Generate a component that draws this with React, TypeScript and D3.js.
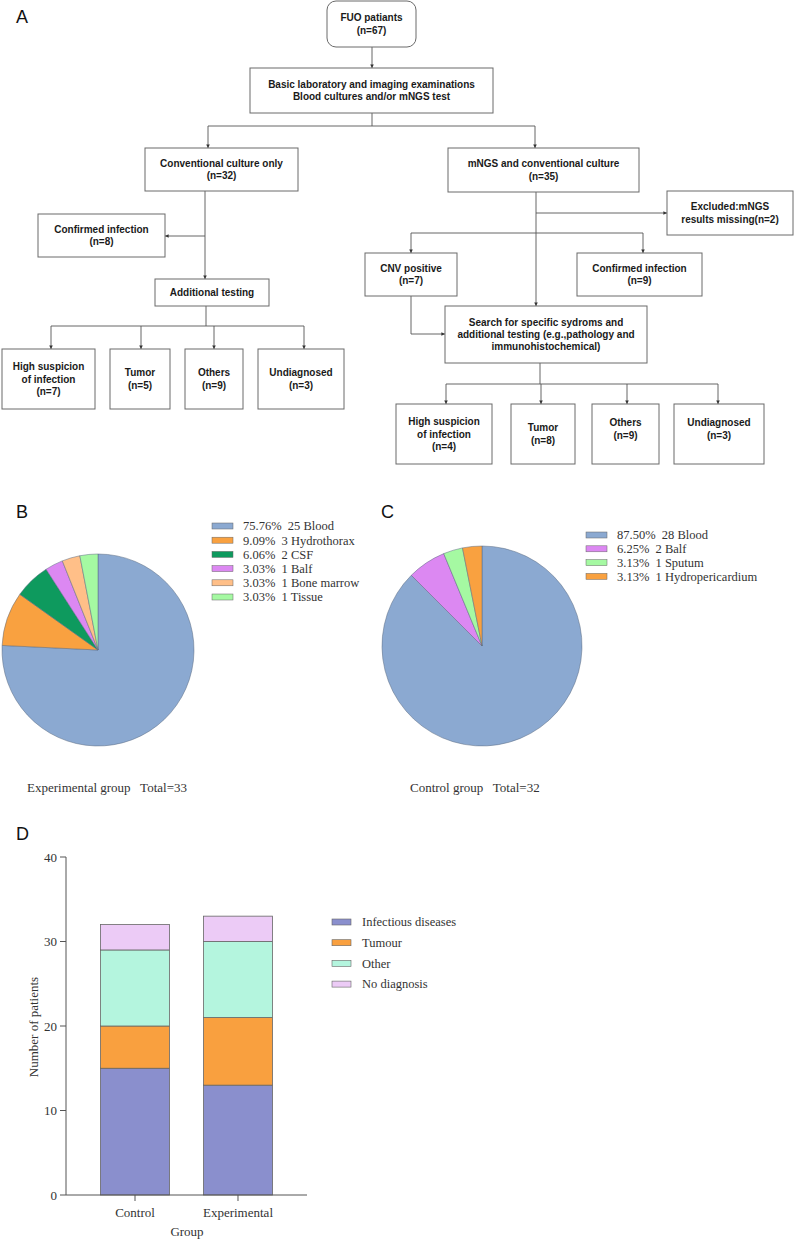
import React from "react";
import * as d3 from "d3";

// ---------- data ----------
const pieBLabels = ["Blood", "Hydrothorax", "CSF", "Balf", "Bone marrow", "Tissue"];
const pieBCounts = [25, 3, 2, 1, 1, 1];
const pieBPercents = ["75.76%", "9.09%", "6.06%", "3.03%", "3.03%", "3.03%"];

const pieCLabels = ["Blood", "Balf", "Sputum", "Hydropericardium"];
const pieCCounts = [28, 2, 1, 1];
const pieCPercents = ["87.50%", "6.25%", "3.13%", "3.13%"];

const groups = ["Control", "Experimental"];
const diagnoses = ["Infectious diseases", "Tumour", "Other", "No diagnosis"];
const controlValues = [15, 5, 9, 3];
const experimentalValues = [13, 8, 9, 3];
const yTicks = [0, 10, 20, 30, 40];

// ---------- styles ----------
const pieBColors = ["#8BA9D1", "#F9A140", "#0E9A5E", "#DC88F2", "#FFBF88", "#A5F9A2"];
const pieCColors = ["#8BA9D1", "#DC88F2", "#A5F9A2", "#F9A140"];
const barColors = ["#8A8FCD", "#F9A03F", "#B4F5DE", "#ECCBF6"];
const serif = "'Liberation Serif', 'Times New Roman', serif";
const sans = "'Liberation Sans', Arial, sans-serif";

// ---------- flowchart ----------
type Node = { lines: string[]; x: number; y: number; w: number; h: number; r?: number; dy?: number };
const flowNodes: Node[] = [
  { lines: ["FUO patiants", "(n=67)"], x: 327, y: 1, w: 89, h: 46, r: 9 },
  { lines: ["Basic laboratory and imaging examinations", "Blood cultures and/or mNGS test"], x: 250, y: 68, w: 243, h: 45 },
  { lines: ["Conventional culture only", "(n=32)"], x: 145, y: 148, w: 153, h: 43 },
  { lines: ["mNGS and conventional culture", "(n=35)"], x: 448, y: 148, w: 191, h: 44 },
  { lines: ["Confirmed infection", "(n=8)"], x: 38, y: 214, w: 127, h: 43 },
  { lines: ["Additional testing"], x: 155, y: 279, w: 114, h: 27 },
  { lines: ["High suspicion", "of infection", "(n=7)"], x: 2, y: 349, w: 93, h: 60 },
  { lines: ["Tumor", "(n=5)"], x: 110, y: 349, w: 60, h: 60 },
  { lines: ["Others", "(n=9)"], x: 185, y: 349, w: 58, h: 60 },
  { lines: ["Undiagnosed", "(n=3)"], x: 258, y: 349, w: 86, h: 60 },
  { lines: ["Excluded:mNGS", "results missing(n=2)"], x: 667, y: 191, w: 126, h: 44 },
  { lines: ["CNV positive", "(n=7)"], x: 365, y: 253, w: 92, h: 43 },
  { lines: ["Confirmed infection", "(n=9)"], x: 577, y: 253, w: 125, h: 43 },
  { lines: ["Search for specific sydroms and", "additional testing (e.g.,pathology and", "immunohistochemical)"], x: 445, y: 306, w: 202, h: 57 },
  { lines: ["High suspicion", "of infection", "(n=4)"], x: 396, y: 404, w: 96, h: 60 },
  { lines: ["Tumor", "(n=8)"], x: 511, y: 404, w: 64, h: 60 },
  { lines: ["Others", "(n=9)"], x: 592, y: 404, w: 67, h: 60, dy: -5 },
  { lines: ["Undiagnosed", "(n=3)"], x: 674, y: 404, w: 90, h: 60, dy: -5 },
];

type Link = { pts: [number, number][]; arrow: boolean };
const flowLinks: Link[] = [
  { pts: [[372, 47], [372, 68]], arrow: true },
  { pts: [[372, 113], [372, 126]], arrow: false },
  { pts: [[208, 126], [535, 126]], arrow: false },
  { pts: [[208, 126], [208, 148]], arrow: true },
  { pts: [[535, 126], [535, 148]], arrow: true },
  { pts: [[205, 191], [205, 279]], arrow: true },
  { pts: [[205, 236], [165, 236]], arrow: true },
  { pts: [[206, 306], [206, 326]], arrow: false },
  { pts: [[51, 326], [304, 326]], arrow: false },
  { pts: [[51, 326], [51, 349]], arrow: true },
  { pts: [[141, 326], [141, 349]], arrow: true },
  { pts: [[214, 326], [214, 349]], arrow: true },
  { pts: [[304, 326], [304, 349]], arrow: true },
  { pts: [[536, 192], [536, 306]], arrow: true },
  { pts: [[536, 213], [667, 213]], arrow: true },
  { pts: [[411, 233], [643, 233]], arrow: false },
  { pts: [[411, 233], [411, 253]], arrow: true },
  { pts: [[643, 233], [643, 253]], arrow: true },
  { pts: [[411, 296], [411, 334], [445, 334]], arrow: true },
  { pts: [[540, 363], [540, 384]], arrow: false },
  { pts: [[446, 384], [718, 384]], arrow: false },
  { pts: [[446, 384], [446, 404]], arrow: true },
  { pts: [[541, 384], [541, 404]], arrow: true },
  { pts: [[627, 384], [627, 404]], arrow: true },
  { pts: [[718, 384], [718, 404]], arrow: true },
];

const Flowchart = () => {
  const line = d3.line();
  const lh = 12.4;
  return (
    <g>
      <defs>
        <marker id="ah" viewBox="0 0 6 6" refX="6" refY="3" markerWidth="4" markerHeight="4" orient="auto">
          <path d="M0,0 L6,3 L0,6 Z" fill="#333" />
        </marker>
      </defs>
      {flowLinks.map((l, i) => (
        <path key={i} d={line(l.pts) || ""} stroke="#555" strokeWidth={0.9} fill="none"
              markerEnd={l.arrow ? "url(#ah)" : undefined} />
      ))}
      {flowNodes.map((n, i) => {
        const cy = n.y + n.h / 2 + (n.dy || 0);
        const first = cy - ((n.lines.length - 1) * lh) / 2;
        return (
          <g key={i}>
            <rect x={n.x} y={n.y} width={n.w} height={n.h} rx={n.r || 0} fill="#fff" stroke="#6a6a6a" strokeWidth={1} />
            {n.lines.map((t, j) => (
              <text key={j} x={n.x + n.w / 2} y={first + j * lh} dy="0.35em" textAnchor="middle"
                    fontFamily={sans} fontWeight="bold" fontSize={10} fill="#1a1a1a">{t}</text>
            ))}
          </g>
        );
      })}
    </g>
  );
};

// ---------- pies ----------
const Pie = ({ cx, cy, r, counts, colors }: { cx: number; cy: number; r: number; counts: number[]; colors: string[] }) => {
  const arcs = d3.pie<number>().value(d => d).sort(null)(counts);
  const arc = d3.arc<d3.PieArcDatum<number>>().innerRadius(0).outerRadius(r);
  return (
    <g transform={`translate(${cx},${cy})`}>
      {arcs.map((a, i) => (
        <path key={i} d={arc(a) || ""} fill={colors[i]} stroke="#5a6a80" strokeWidth={0.5} />
      ))}
    </g>
  );
};

const PieLegend = ({ x, y, step, labels, counts, percents, colors }:
  { x: number; y: number; step: number; labels: string[]; counts: number[]; percents: string[]; colors: string[] }) => (
  <g>
    {labels.map((lab, i) => (
      <g key={i} transform={`translate(${x},${y + i * step})`}>
        <rect x={0} y={-3} width={21} height={6} fill={colors[i]} stroke="#666" strokeWidth={0.5} />
        <text x={31} y={0} dy="0.35em" fontFamily={serif} fontSize={12.5} fill="#333"
              style={{ whiteSpace: "pre" }}>{`${percents[i]}  ${counts[i]} ${lab}`}</text>
      </g>
    ))}
  </g>
);

// ---------- stacked bars ----------
const BarChart = () => {
  const rows = groups.map((g, gi) => {
    const vals = gi === 0 ? controlValues : experimentalValues;
    const o: any = { group: g };
    diagnoses.forEach((d, di) => (o[d] = vals[di]));
    return o;
  });
  const series = d3.stack<any>().keys(diagnoses)(rows);
  const x = d3.scaleBand().domain(groups).range([66, 307]).paddingInner(0.33).paddingOuter(0.335);
  const y = d3.scaleLinear().domain([0, 40]).range([1195, 857]);
  const axisColor = "#555";
  return (
    <g>
      {series.map((s, si) => (
        <g key={si}>
          {s.map((d, di) => (
            <rect key={di} x={x(groups[di])} y={y(d[1])} width={x.bandwidth()} height={y(d[0]) - y(d[1])}
                  fill={barColors[si]} stroke="#666" strokeWidth={0.8} />
          ))}
        </g>
      ))}
      <line x1={66} x2={66} y1={y(40)} y2={y(0)} stroke={axisColor} strokeWidth={1} />
      <line x1={66} x2={307} y1={y(0)} y2={y(0)} stroke={axisColor} strokeWidth={1} />
      {yTicks.map(t => (
        <g key={t}>
          <line x1={60} x2={66} y1={y(t)} y2={y(t)} stroke={axisColor} />
          <text x={57} y={y(t)} dy="0.35em" textAnchor="end" fontFamily={serif} fontSize={13} fill="#333">{t}</text>
        </g>
      ))}
      {groups.map(g => {
        const cx = (x(g) || 0) + x.bandwidth() / 2;
        return (
          <g key={g}>
            <line x1={cx} x2={cx} y1={y(0)} y2={y(0) + 6} stroke={axisColor} />
            <text x={cx} y={1212} dy="0.35em" textAnchor="middle" fontFamily={serif} fontSize={13} fill="#333">{g}</text>
          </g>
        );
      })}
      <text x={187} y={1231} dy="0.35em" textAnchor="middle" fontFamily={serif} fontSize={13} fill="#333">Group</text>
      <text transform="translate(33,1027) rotate(-90)" dy="0.35em" textAnchor="middle" fontFamily={serif} fontSize={13} fill="#333">
        Number of patients
      </text>
      {diagnoses.map((d, i) => (
        <g key={d} transform={`translate(332,${922 + i * 20.7})`}>
          <rect x={0} y={-3} width={19} height={6} fill={barColors[i]} stroke="#666" strokeWidth={0.6} />
          <text x={30} y={0} dy="0.35em" fontFamily={serif} fontSize={12.5} fill="#333">{d}</text>
        </g>
      ))}
    </g>
  );
};

const PanelLabel = ({ x, y, t }: { x: number; y: number; t: string }) => (
  <text x={x} y={y} fontFamily={sans} fontSize={18} fill="#111">{t}</text>
);

export default function App() {
  return (
    <svg width={794} height={1239} style={{ position: "absolute", left: 0, top: 0, background: "#fff" }}>
      <rect width={794} height={1239} fill="#fff" />
      <PanelLabel x={16} y={23} t="A" />
      <Flowchart />

      <PanelLabel x={16} y={518} t="B" />
      <Pie cx={98} cy={650} r={96} counts={pieBCounts} colors={pieBColors} />
      <PieLegend x={212} y={526} step={14.2} labels={pieBLabels} counts={pieBCounts} percents={pieBPercents} colors={pieBColors} />
      <text x={27} y={787} dy="0.35em" fontFamily={serif} fontSize={13} fill="#333" style={{ whiteSpace: "pre" }}>
        {"Experimental group   Total=33"}
      </text>

      <PanelLabel x={381} y={518} t="C" />
      <Pie cx={482} cy={646} r={100} counts={pieCCounts} colors={pieCColors} />
      <PieLegend x={586} y={535} step={13.8} labels={pieCLabels} counts={pieCCounts} percents={pieCPercents} colors={pieCColors} />
      <text x={410} y={787} dy="0.35em" fontFamily={serif} fontSize={13} fill="#333" style={{ whiteSpace: "pre" }}>
        {"Control group   Total=32"}
      </text>

      <PanelLabel x={16} y={840} t="D" />
      <BarChart />
    </svg>
  );
}
